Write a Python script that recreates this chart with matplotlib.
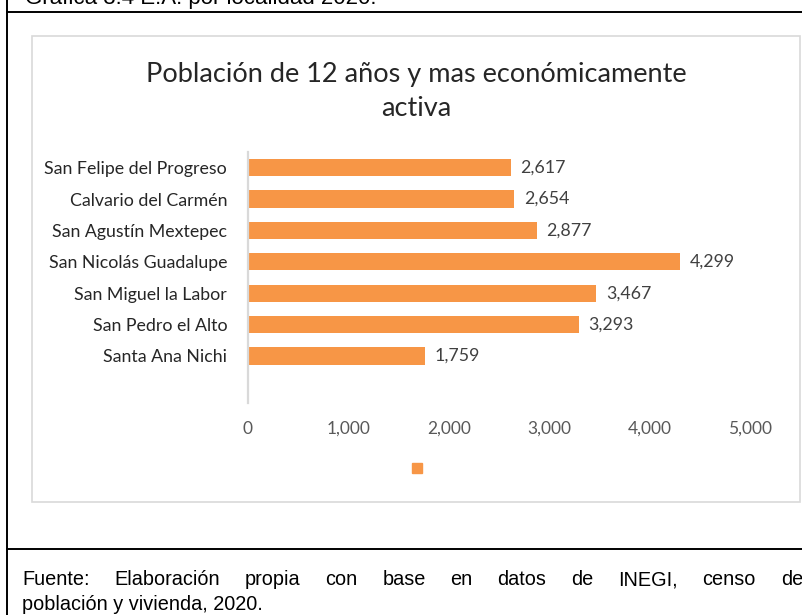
import matplotlib
matplotlib.use("Agg")
import matplotlib.pyplot as plt
from matplotlib.lines import Line2D
from matplotlib.patches import Rectangle, Patch

# Datos (de arriba hacia abajo)
localidades = ["San Felipe del Progreso", "Calvario del Carmén", "San Agustín Mextepec",
               "San Nicolás Guadalupe", "San Miguel la Labor", "San Pedro el Alto",
               "Santa Ana Nichi"]
poblacion = [2617, 2654, 2877, 4299, 3467, 3293, 1759]
x_ticks = [0, 1000, 2000, 3000, 4000, 5000]

titulo = "Población de 12 años y mas económicamente\nactiva"
encabezado = "Gráfica 3.4 E.A. por localidad 2020."
fuente_1 = "Fuente: Elaboración propia con base en datos de INEGI, censo de"
fuente_2 = "población y vivienda, 2020."

W, H = 803, 615
naranja = "#F79646"
chart_font = ["Lato", "DejaVu Sans"]
doc_font = ["Liberation Sans", "DejaVu Sans"]


def fx(x):
    return x / W


def fy(y):
    return 1 - y / H


fig = plt.figure(figsize=(W / 100, H / 100), dpi=100)

# Lineas de la tabla del documento
fig.add_artist(Line2D([fx(7), fx(7)], [0, 1], color="black", lw=1.4))
fig.add_artist(Line2D([fx(7), 1], [fy(12), fy(12)], color="black", lw=1.4))
fig.add_artist(Line2D([fx(7), 1], [fy(549), fy(549)], color="black", lw=1.4))

# Marco del grafico
fig.add_artist(Rectangle((fx(32), fy(502)), (800 - 32) / W, (502 - 36) / H,
                         transform=fig.transFigure, fill=False, ec="#d9d9d9", lw=1.2))

# Encabezado cortado arriba
fig.text(fx(25), fy(4), encabezado, fontsize=16, family=doc_font,
         va="baseline", ha="left", color="black")

# Grafico de barras
ax = fig.add_axes([fx(248), fy(403), 502 / W, 251 / H])
ypos = list(range(len(localidades)))
bars = ax.barh(ypos, poblacion, height=0.55, color=naranja)
ax.set_ylim(len(localidades) + 0.5, -0.5)
ax.set_xlim(0, 5000)
ax.set_xticks(x_ticks)
ax.set_xticklabels([f"{t:,}" for t in x_ticks], family=chart_font, fontsize=12.5, color="#595959")
ax.set_yticks(ypos)
ax.set_yticklabels(localidades, family=chart_font, fontsize=12.8, color="#262626")
ax.tick_params(axis="x", length=0, pad=13)
ax.tick_params(axis="y", length=0, pad=15)
for s in ["top", "right", "bottom"]:
    ax.spines[s].set_visible(False)
ax.spines["left"].set_color("#d9d9d9")
ax.spines["left"].set_linewidth(1.6)
ax.bar_label(bars, labels=[f"{v:,}" for v in poblacion], padding=7,
             family=chart_font, fontsize=12.8, color="#404040")

fig.text(fx(416), fy(91.5), titulo, ha="center", va="center", fontsize=19.5,
         family=chart_font, color="#262626", linespacing=1.45)

# Leyenda sin texto
fig.legend(handles=[Patch(color=naranja)], labels=[""], loc="center",
           bbox_to_anchor=(fx(417), fy(469)), frameon=False, handlelength=0.65,
           handleheight=0.65, handletextpad=0, borderpad=0, borderaxespad=0)

# Fuente (primera linea justificada)
renderer = fig.canvas.get_renderer()
palabras = fuente_1.split(" ")
textos = [fig.text(0, fy(585), p, fontsize=14.3, family=doc_font, va="baseline", ha="left")
          for p in palabras]
anchos = [t.get_window_extent(renderer).width for t in textos]
x0, x1 = 22, 803
hueco = (x1 - x0 - sum(anchos)) / (len(palabras) - 1)
x = x0
for t, w in zip(textos, anchos):
    t.set_x(fx(x))
    x += w + hueco
fig.text(fx(22), fy(610), fuente_2, fontsize=14.3, family=doc_font, va="baseline", ha="left")

fig.savefig("out.png", dpi=100)
